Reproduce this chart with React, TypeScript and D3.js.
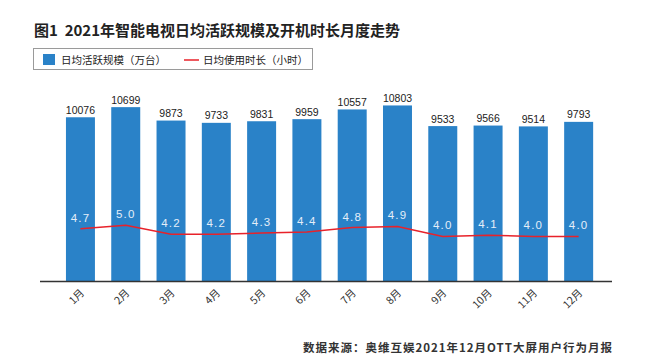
import React from "react";
import * as d3 from "d3";

const months = ["1月", "2月", "3月", "4月", "5月", "6月", "7月", "8月", "9月", "10月", "11月", "12月"];
const activeScale = [10076, 10699, 9873, 9733, 9831, 9959, 10557, 10803, 9533, 9566, 9514, 9793];
const usageHours = [4.7, 5.0, 4.2, 4.2, 4.3, 4.4, 4.8, 4.9, 4.0, 4.1, 4.0, 4.0];
const title = "图1  2021年智能电视日均活跃规模及开机时长月度走势";
const legendBar = "日均活跃规模（万台）";
const legendLine = "日均使用时长（小时）";
const source = "数据来源：奥维互娱2021年12月OTT大屏用户行为月报";

const W = 652;
const H = 363;
const baseY = 281;
const topY = 86;
const CJK = "'Noto Sans CJK SC', 'Noto Sans', sans-serif";

export default function App() {
  const x = d3
    .scaleBand<string>()
    .domain(months)
    .range([57.8, 601.3])
    .paddingInner(0.36)
    .paddingOuter(0.18);
  const y = d3.scaleLinear().domain([0, 12000]).range([baseY, topY]);
  const y2 = d3.scaleLinear().domain([0, 17.5]).range([baseY, topY]);
  const cx = (m: string) => (x(m) as number) + x.bandwidth() / 2;

  const line = d3
    .line<number>()
    .x((_, i) => cx(months[i]))
    .y((d) => y2(d));

  return (
    <svg
      width={W}
      height={H}
      style={{ position: "absolute", left: 0, top: 0, background: "#fff" }}
    >
      <text x={34} y={36} fontFamily={CJK} fontWeight={700} fontSize={15} fill="#222" style={{ whiteSpace: "pre" }}>
        {title}
      </text>

      <rect x={33.5} y={48.5} width={279} height={21} fill="none" stroke="#9a9a9a" strokeWidth={1} />
      <rect x={43} y={54} width={12} height={11} fill="#2a82c8" />
      <text x={61} y={63.5} fontFamily={CJK} fontSize={10.5} fill="#222">
        {legendBar}
      </text>
      <line x1={184} x2={199} y1={60} y2={60} stroke="#e8222a" strokeWidth={1.5} />
      <text x={203} y={63.5} fontFamily={CJK} fontSize={10.5} fill="#222">
        {legendLine}
      </text>

      {months.map((m, i) => (
        <g key={m}>
          <rect
            x={x(m)}
            y={y(activeScale[i])}
            width={x.bandwidth()}
            height={baseY - y(activeScale[i])}
            fill="#2a82c8"
          />
          <text
            x={cx(m)}
            y={y(activeScale[i]) - 3.5}
            textAnchor="middle"
            fontFamily="Arial, 'Liberation Sans', sans-serif"
            fontSize={10.5}
            fill="#222"
          >
            {activeScale[i]}
          </text>
        </g>
      ))}

      <line x1={40} x2={612} y1={baseY + 0.5} y2={baseY + 0.5} stroke="#333" strokeWidth={1.5} />

      <path d={line(usageHours) || ""} fill="none" stroke="#e8222a" strokeWidth={1.5} />
      {months.map((m, i) => (
        <text
          key={"l" + m}
          x={cx(m)}
          y={y2(usageHours[i]) - 7}
          textAnchor="middle"
          fontFamily="Arial, 'Liberation Sans', sans-serif"
          fontSize={11.5}
          letterSpacing={1.2}
          fill="#e4eef9"
        >
          {usageHours[i].toFixed(1)}
        </text>
      ))}

      {months.map((m) => (
        <text
          key={"x" + m}
          transform={`translate(${cx(m) + 4.5},${baseY + 12.5}) rotate(-45)`}
          textAnchor="end"
          fontFamily={CJK}
          fontSize={10.5}
          fill="#333"
        >
          {m}
        </text>
      ))}

      <text
        x={613}
        y={352}
        textAnchor="end"
        fontFamily={CJK}
        fontWeight={700}
        fontSize={11.5}
        letterSpacing={1}
        fill="#333"
      >
        {source}
      </text>
    </svg>
  );
}
